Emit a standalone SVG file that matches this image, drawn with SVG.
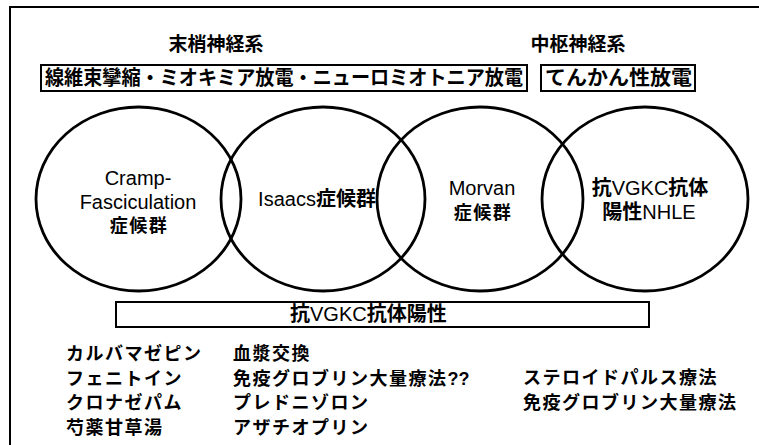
<svg xmlns="http://www.w3.org/2000/svg" width="759" height="445" viewBox="0 0 759 445">
<style>
.frame{fill:none;stroke:#000;stroke-width:2}
.box{fill:#fff;stroke:#000;stroke-width:2}
.circ{fill:none;stroke:#000;stroke-width:2.8}
.jp{font-family:"Noto Sans CJK JP","Liberation Sans",sans-serif;font-weight:bold;fill:#000}
.lat{font-family:"Liberation Sans","Noto Sans CJK JP",sans-serif;fill:#000;font-size:20px}
.h{font-size:19px}
.bx{font-size:20px}
.li{font-size:18px;letter-spacing:1.5px}
.cj{font-size:18px;letter-spacing:1.5px}
</style>
<rect width="759" height="445" fill="#fff"/>
<path class="frame" d="M10,445 V7 H759"/>
<g id="heading-peripheral"><text class="jp h" x="216" y="51" text-anchor="middle">末梢神経系</text></g>
<g id="heading-central"><text class="jp h" x="578" y="51" text-anchor="middle">中枢神経系</text></g>
<g id="box-peripheral">
<rect class="box" x="41" y="65" width="486" height="26"/>
<text class="jp bx" x="45" y="85" textLength="478" lengthAdjust="spacingAndGlyphs">線維束攣縮・ミオキミア放電・ニューロミオトニア放電</text>
</g>
<g id="box-central">
<rect class="box" x="541" y="65" width="154" height="26"/>
<text class="jp bx" x="545" y="85" textLength="147" lengthAdjust="spacingAndGlyphs">てんかん性放電</text>
</g>
<g id="connectors"></g>
<g id="circle-cramp">
<ellipse class="circ" cx="138.5" cy="199" rx="102.5" ry="92"/>
<text class="lat" text-anchor="middle" x="138" y="185">Cramp-</text>
<text class="lat" text-anchor="middle" x="138" y="209">Fasciculation</text>
<text class="jp cj" text-anchor="middle" x="139" y="232">症候群</text>
</g>
<g id="circle-isaacs">
<ellipse class="circ" cx="323" cy="199" rx="102" ry="92"/>
<text class="lat" text-anchor="middle" x="317" y="206">Isaacs<tspan class="jp">症候群</tspan></text>
</g>
<g id="circle-morvan">
<ellipse class="circ" cx="480" cy="199" rx="103" ry="92"/>
<text class="lat" text-anchor="middle" x="482" y="195">Morvan</text>
<text class="jp cj" text-anchor="middle" x="483" y="219">症候群</text>
</g>
<g id="circle-nhle">
<ellipse class="circ" cx="645" cy="199" rx="103" ry="92"/>
<text class="lat" text-anchor="middle" x="650" y="195"><tspan class="jp">抗</tspan>VGKC<tspan class="jp">抗体</tspan></text>
<text class="lat" text-anchor="middle" x="649" y="219"><tspan class="jp">陽性</tspan>NHLE</text>
</g>
<g id="box-vgkc">
<rect class="box" x="116" y="302" width="533" height="25"/>
<text class="lat" x="290" y="321"><tspan class="jp">抗</tspan>VGKC<tspan class="jp">抗体陽性</tspan></text>
</g>
<g id="list-symptomatic">
<text class="jp li" x="66" y="360">カルバマゼピン</text>
<text class="jp li" x="66" y="385">フェニトイン</text>
<text class="jp li" x="66" y="409">クロナゼパム</text>
<text class="jp li" x="66" y="434">芍薬甘草湯</text>
</g>
<g id="list-immune">
<text class="jp li" x="233" y="360">血漿交換</text>
<text class="jp li" x="233" y="385">免疫グロブリン大量療法<tspan font-family="Liberation Sans" letter-spacing="0">??</tspan></text>
<text class="jp li" x="233" y="409">プレドニゾロン</text>
<text class="jp li" x="233" y="434">アザチオプリン</text>
</g>
<g id="list-central">
<text class="jp li" x="523" y="384">ステロイドパルス療法</text>
<text class="jp li" x="523" y="409">免疫グロブリン大量療法</text>
</g>
</svg>
